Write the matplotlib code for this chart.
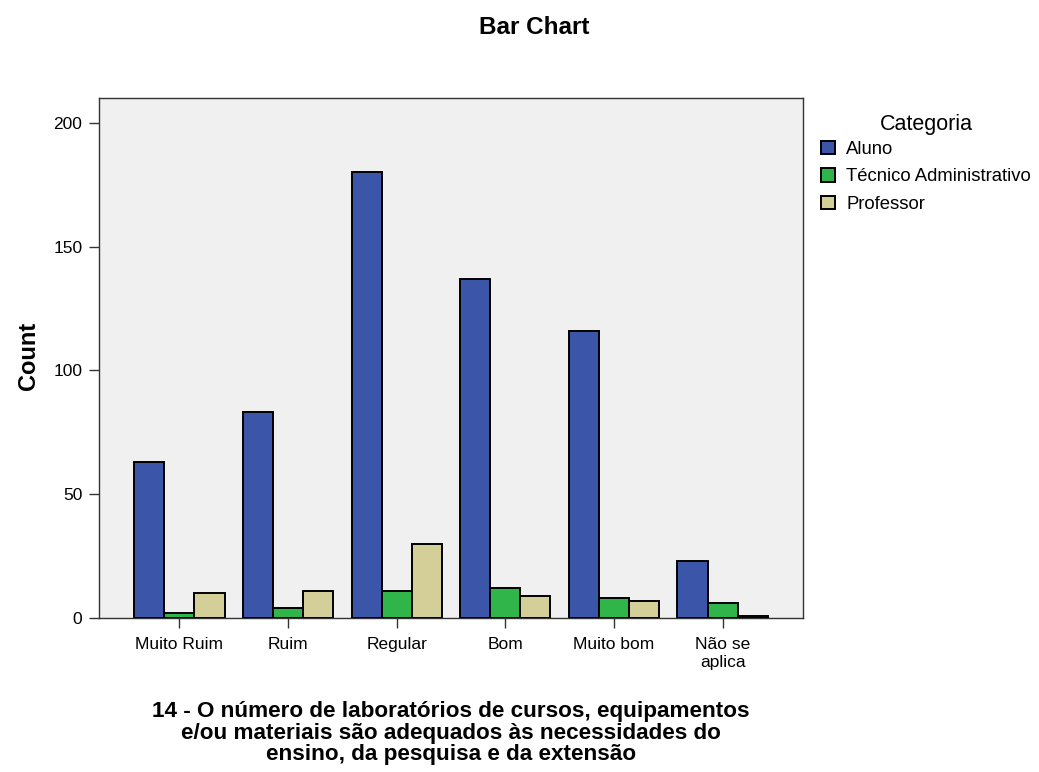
import matplotlib
matplotlib.use("Agg")
import matplotlib.pyplot as plt
import numpy as np
from matplotlib.patches import Patch

plt.rcParams['font.family'] = ['Liberation Sans', 'DejaVu Sans']

categories = ["Muito Ruim", "Ruim", "Regular", "Bom", "Muito bom", "Não se\naplica"]
series_names = ["Aluno", "Técnico Administrativo", "Professor"]
aluno = [63, 83, 180, 137, 116, 23]
tecnico = [2, 4, 11, 12, 8, 6]
professor = [10, 11, 30, 9, 7, 1]
colors = ["#3B55A8", "#30B54A", "#D4CF98"]
y_ticks = [0, 50, 100, 150, 200]

fig = plt.figure(figsize=(10.39, 7.72), dpi=100)
ax = fig.add_axes([99/1039, 1-618/772, (803-99)/1039, (618-98)/772])
ax.set_facecolor("#F0F0F0")

x = np.arange(len(categories))
w = 0.277
for i, (vals, c, name) in enumerate(zip([aluno, tecnico, professor], colors, series_names)):
    ax.bar(x + (i - 1) * w, vals, width=w, color=c, edgecolor="black", linewidth=1.4, label=name, zorder=3)

ax.set_xlim(-0.74, 5.74)
ax.set_ylim(0, 210)
ax.set_yticks(y_ticks)
ax.set_xticks(x)
ax.set_xticklabels(categories, fontsize=12.5, linespacing=1.2)
ax.tick_params(axis='y', direction='out', length=7, width=1, labelsize=12.5, colors='#333333', labelcolor='black', pad=5)
ax.tick_params(axis='x', direction='out', length=7, width=1, colors='#333333', labelcolor='black', pad=7)
for s in ax.spines.values():
    s.set_color("#333333")
    s.set_linewidth(1)

fig.text(28/1039, 1-356/772, "Count", rotation=90, ha='center', va='center', fontsize=17, fontweight='bold')
fig.text(534/1039, 1-27/772, "Bar Chart", ha='center', va='center', fontsize=17.5, fontweight='bold')
fig.text(451/1039, 1-733/772,
         "14 - O número de laboratórios de cursos, equipamentos\ne/ou materiais são adequados às necessidades do\nensino, da pesquisa e da extensão",
         ha='center', va='center', fontsize=16.2, fontweight='bold', linespacing=1.06)

handles = [Patch(facecolor=c, edgecolor='black', linewidth=1.4) for c in colors]
leg = fig.legend(handles, series_names, title="Categoria", loc='upper left',
                 bbox_to_anchor=(812/1039, 1-105/772), frameon=False, fontsize=13.3,
                 title_fontsize=15.5, handlelength=0.75, handleheight=0.75, handletextpad=0.6,
                 labelspacing=0.55, borderpad=0)
leg._legend_box.sep = 4

fig.savefig("out.png", dpi=100)
